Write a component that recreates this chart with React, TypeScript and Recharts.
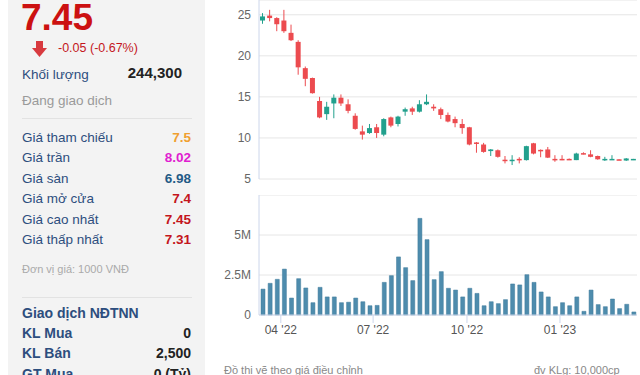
import React from 'react';
import { ComposedChart, Bar, XAxis, YAxis, CartesianGrid } from 'recharts';

// weekly candles, oldest first (price in 1000 VND)
const opens = [24.3, 24.9, 24.6, 24.3, 22.8, 21.7, 18.5, 17.3, 14.5, 12.9, 14.2, 14.9, 14.1, 12.7, 10.8, 10.6, 11.3, 10.4, 12.5, 11.7, 13.2, 13.6, 13.2, 14.1, 13.8, 13.5, 12.8, 12.3, 11.7, 11.3, 9.45, 9.2, 8.4, 8.5, 7.35, 7.25, 7.45, 7.3, 9.35, 8.55, 8.6, 7.45, 7.45, 7.45, 7.3, 8.15, 8.0, 7.8, 7.35, 7.35, 7.4, 7.25, 7.4];
const highs = [25.2, 25.6, 24.7, 25.6, 23.8, 21.9, 18.7, 17.35, 15.0, 14.4, 15.3, 15.3, 14.7, 13.0, 11.5, 11.7, 11.7, 12.4, 12.6, 12.7, 13.7, 13.8, 14.6, 15.3, 14.1, 13.7, 13.1, 12.6, 12.3, 11.35, 9.5, 9.4, 8.65, 8.6, 7.8, 7.9, 7.65, 9.05, 9.4, 8.6, 8.9, 7.9, 7.9, 7.5, 8.2, 8.25, 8.5, 7.85, 7.7, 7.9, 7.4, 7.55, 7.45];
const lows = [23.9, 24.2, 23.0, 22.8, 21.8, 17.7, 16.3, 15.4, 12.4, 12.2, 12.4, 13.9, 13.0, 11.0, 9.8, 10.5, 10.0, 10.2, 11.3, 11.4, 12.7, 12.8, 13.1, 14.0, 13.3, 12.3, 11.9, 11.3, 10.5, 9.1, 8.2, 8.2, 7.8, 7.6, 6.9, 6.7, 6.9, 7.25, 8.0, 7.65, 7.55, 7.1, 7.3, 7.35, 7.3, 8.0, 7.65, 7.35, 7.2, 7.35, 7.3, 7.2, 7.31];
const closes = [24.8, 24.6, 23.85, 23.0, 21.9, 18.6, 17.2, 15.45, 12.5, 13.8, 14.9, 14.2, 13.3, 11.1, 10.4, 11.2, 10.6, 12.3, 11.5, 12.6, 13.5, 13.2, 14.1, 14.4, 13.6, 12.8, 12.0, 11.8, 11.2, 9.2, 9.35, 8.3, 8.6, 7.7, 7.25, 7.35, 7.35, 9.0, 8.1, 8.5, 7.6, 7.4, 7.4, 7.4, 8.1, 8.05, 7.7, 7.4, 7.45, 7.45, 7.3, 7.5, 7.45];
// weekly volume, millions of shares
const volumes = [1.62, 1.98, 2.23, 2.87, 1.06, 2.27, 1.69, 0.77, 1.73, 1.13, 1.13, 0.77, 0.8, 1.06, 0.83, 0.58, 0.6, 2.04, 2.46, 3.63, 2.96, 2.15, 6.04, 4.71, 2.21, 2.71, 1.67, 1.56, 1.13, 1.67, 1.35, 0.58, 0.83, 0.71, 0.96, 1.94, 1.88, 2.52, 2.04, 1.44, 1.13, 0.52, 0.77, 0.58, 1.13, 0.23, 1.56, 0.65, 0.52, 1.0, 0.4, 0.67, 0.19];

// month ticks sit between weeks
const monthTickPos = [2.56, 15.5, 28.66, 41.7];
const monthTickLabels = ["04 '22", "07 '22", "10 '22", "01 '23"];
const priceTicks = [5, 10, 15, 20, 25];
const volumeTicks = [0, 2.5, 5, 7.5];

const priceRows = [
  { label: 'Giá tham chiếu', value: '7.5', color: '#f0a030' },
  { label: 'Giá trần', value: '8.02', color: '#e01ed0' },
  { label: 'Giá sàn', value: '6.98', color: '#1f5a86' },
  { label: 'Giá mở cửa', value: '7.4', color: '#c4161c' },
  { label: 'Giá cao nhất', value: '7.45', color: '#c4161c' },
  { label: 'Giá thấp nhất', value: '7.31', color: '#c4161c' },
];
const foreignRows = [
  { label: 'KL Mua', value: '0' },
  { label: 'KL Bán', value: '2,500' },
  { label: 'GT Mua', value: '0 (Tỷ)' },
];

const data = opens.map((o, i) => ({ i, o, h: highs[i], l: lows[i], c: closes[i], v: volumes[i] }));

const UP = '#22a08d';
const DOWN = '#ec4b4f';
const FONT = '"Liberation Sans", Arial, sans-serif';
const LABEL = '#2d4e7e';

const Candle = (props: any) => {
  const { x, y, width, height, payload } = props;
  const { o, c, h, l } = payload;
  const color = c >= o ? UP : DOWN;
  const ppu = height / (h - l);
  const top = y + (h - Math.max(o, c)) * ppu;
  const bh = Math.max(Math.abs(o - c) * ppu, 1.5);
  const cx = x + width / 2;
  return (
    <g>
      <line x1={cx} x2={cx} y1={y} y2={y + height} stroke={color} strokeWidth={1} />
      <rect x={x} y={top} width={width} height={bh} fill={color} />
    </g>
  );
};

const Txt = ({ x, y, right, children, style }: any) => (
  <div
    style={{
      position: 'absolute',
      top: y - 9,
      lineHeight: '18px',
      whiteSpace: 'nowrap',
      ...(right !== undefined ? { right: 640 - right } : { left: x }),
      ...style,
    }}
  >
    {children}
  </div>
);

const axisTick = { fill: '#666', fontSize: 12, fontFamily: FONT };

export default function App() {
  return (
    <div style={{ position: 'absolute', left: 0, top: 0, width: 640, height: 375, overflow: 'hidden', background: '#fff', fontFamily: FONT }}>
      {/* info panel */}
      <div style={{ position: 'absolute', left: 8, top: 0, width: 197, height: 375, background: '#f3f3f3' }} />
      <Txt x={21} y={16} style={{ fontSize: 37, fontWeight: 700, color: '#cc1111', lineHeight: '40px', top: -2 }}>7.45</Txt>
      <svg style={{ position: 'absolute', left: 32, top: 41 }} width={15} height={16}>
        <rect x={4} y={0} width={7} height={7} fill="#d83a3f" />
        <polygon points="0,7 15,7 7.5,16" fill="#d83a3f" />
      </svg>
      <Txt x={58} y={48} style={{ fontSize: 12.5, color: '#c4161c' }}>-0.05 (-0.67%)</Txt>
      <Txt x={22} y={75} style={{ fontSize: 13.5, color: LABEL }}>Khối lượng</Txt>
      <Txt right={182} y={73} style={{ fontSize: 15, fontWeight: 700, color: '#222' }}>244,300</Txt>
      <Txt x={22} y={101} style={{ fontSize: 13.5, color: '#9a9a9a' }}>Đang giao dịch</Txt>
      <div style={{ position: 'absolute', left: 22, top: 118, width: 170, height: 1, background: '#e2e2e2' }} />
      {priceRows.map((r, k) => (
        <React.Fragment key={r.label}>
          <Txt x={22} y={138 + k * 20.4} style={{ fontSize: 13.5, color: LABEL }}>{r.label}</Txt>
          <Txt right={191} y={138 + k * 20.4} style={{ fontSize: 13.5, fontWeight: 700, color: r.color }}>{r.value}</Txt>
        </React.Fragment>
      ))}
      <Txt x={22} y={269} style={{ fontSize: 11, color: '#aaa' }}>Đơn vị giá: 1000 VNĐ</Txt>
      <div style={{ position: 'absolute', left: 22, top: 297, width: 170, height: 1, background: '#e2e2e2' }} />
      <Txt x={22} y={313} style={{ fontSize: 14, fontWeight: 700, color: LABEL }}>Giao dịch NĐTNN</Txt>
      {foreignRows.map((r, k) => (
        <React.Fragment key={r.label}>
          <Txt x={22} y={333 + k * 20.4} style={{ fontSize: 14, fontWeight: 700, color: LABEL }}>{r.label}</Txt>
          <Txt right={191} y={333 + k * 20.4} style={{ fontSize: 14, fontWeight: 700, color: '#222' }}>{r.value}</Txt>
        </React.Fragment>
      ))}

      {/* price chart */}
      <div style={{ position: 'absolute', left: 210, top: 0 }}>
        <ComposedChart width={430} height={185} data={data} margin={{ top: 0, right: 3, bottom: 6, left: 0 }}>
          <CartesianGrid vertical={false} stroke="#e6e6e6" />
          <XAxis dataKey="i" type="number" domain={[-0.5, 52.5]} allowDataOverflow hide />
          <YAxis
            width={49}
            domain={[5, 26.8]}
            ticks={priceTicks}
            interval={0}
            allowDataOverflow
            tickLine={false}
            axisLine={{ stroke: '#ccd6eb' }}
            tick={axisTick}
          />
          <Bar dataKey={(d: any) => [d.l, d.h]} barSize={5} shape={(p: any) => <Candle {...p} />} isAnimationActive={false} />
        </ComposedChart>
      </div>

      {/* volume chart */}
      <div style={{ position: 'absolute', left: 210, top: 195 }}>
        <ComposedChart width={430} height={150} data={data} margin={{ top: 0, right: 3, bottom: 0, left: 0 }}>
          <CartesianGrid vertical={false} stroke="#e6e6e6" />
          <XAxis
            dataKey="i"
            type="number"
            domain={[-0.5, 52.5]}
            allowDataOverflow
            ticks={monthTickPos}
            interval={0}
            tickFormatter={(v: number) => monthTickLabels[monthTickPos.indexOf(v)]}
            height={30}
            tickSize={8}
            axisLine={{ stroke: '#ccd6eb' }}
            tickLine={{ stroke: '#ccd6eb' }}
            tick={{ ...axisTick, fill: '#555' }}
          />
          <YAxis
            width={49}
            domain={[0, 7.5]}
            ticks={volumeTicks}
            interval={0}
            tickFormatter={(v: number) => (v === 7.5 ? '' : v === 0 ? '0' : `${v}M`)}
            tickLine={false}
            axisLine={{ stroke: '#ccd6eb' }}
            tick={axisTick}
          />
          <Bar dataKey="v" barSize={4} fill="#4e8cad" stroke="#3f7a9a" strokeWidth={0.5} isAnimationActive={false} />
        </ComposedChart>
      </div>

      <Txt x={224} y={370} style={{ fontSize: 11, color: '#888' }}>Đồ thị vẽ theo giá điều chỉnh</Txt>
      <Txt x={534} y={370} style={{ fontSize: 11, color: '#888' }}>đv KLg: 10,000cp</Txt>
    </div>
  );
}
